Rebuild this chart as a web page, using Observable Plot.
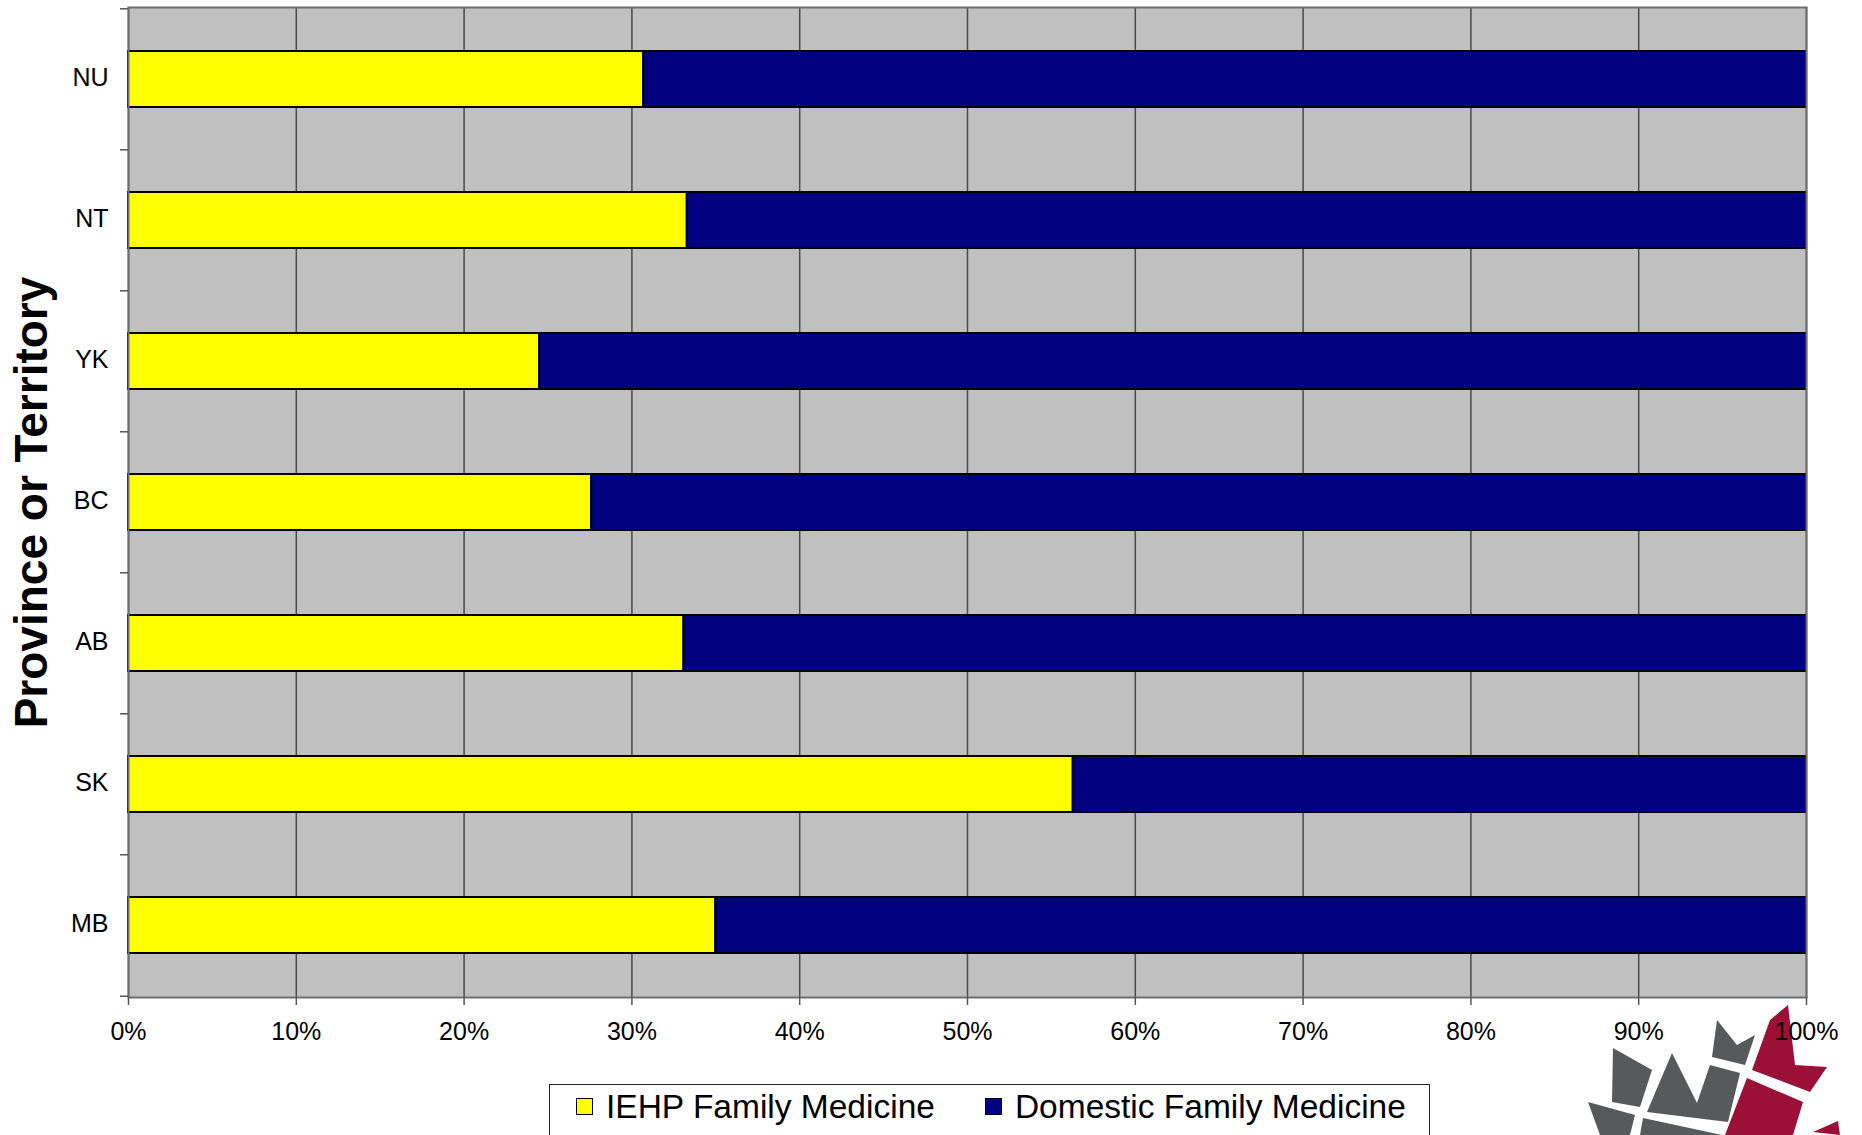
<!DOCTYPE html>
<html>
<head>
<meta charset="utf-8">
<script src="https://cdn.jsdelivr.net/npm/d3@7"></script>
<script src="https://cdn.jsdelivr.net/npm/@observablehq/plot@0.6"></script>
<style>
  html, body { margin: 0; padding: 0; background: #fff; width: 1862px; height: 1135px; overflow: hidden; }
  #page { position: relative; width: 1862px; height: 1135px; }
  #logo { position: absolute; left: 0; top: 0; z-index: 0; }
  #chart { position: relative; z-index: 1; }
  #chart svg { display: block; }
  .legend {
    position: relative; z-index: 2;
    margin: 9px 0 0 549px; width: 881px; height: 80px;
    box-sizing: border-box; border: 1.5px solid #222; background: #fff;
    font-family: "Liberation Sans", Arial, sans-serif; font-size: 33.5px; color: #000;
    padding: 2px 0 0 26px; line-height: 34px; white-space: nowrap;
  }
  .legend .item { display: inline-flex; align-items: center; }
  .legend .item + .item { margin-left: 50px; }
  .legend .swatch { width: 17px; height: 17px; box-sizing: border-box; border: 1.5px solid #000; margin-right: 13px; }
</style>
</head>
<body>
<div id="page">
  <svg id="logo" width="1862" height="1135" viewBox="0 0 1862 1135">
    <!-- maple leaf emblem -->
    <g fill="#58595b">
      <polygon points="1717,1020 1737,1045 1755,1035 1745,1065 1712,1057"/>
      <polygon points="1672,1053 1697,1103 1710,1065 1740,1073 1728,1122 1647,1112"/>
      <polygon points="1613,1048 1652,1070 1640,1107 1612,1102"/>
      <polygon points="1588,1102 1635,1115 1630,1135 1600,1135"/>
      <polygon points="1643,1118 1722,1135 1640,1135"/>
    </g>
    <g fill="#9b1036">
      <polygon points="1770,1020 1788,1005 1795,1065 1827,1067 1810,1092 1752,1070"/>
      <polygon points="1747,1078 1803,1102 1793,1135 1725,1135"/>
      <polygon points="1813,1132 1838,1121 1840,1135"/>
    </g>
  </svg>
  <div id="chart"></div>
  <div class="legend" id="legend"></div>
</div>
<script>
// Share of family medicine residents by province or territory (percent)
const provinces = ["NU", "NT", "YK", "BC", "AB", "SK", "MB"];
const iehpShare = [30.7, 33.3, 24.5, 27.6, 33.1, 56.3, 35.0];
const domesticShare = [69.3, 66.7, 75.5, 72.4, 66.9, 43.7, 65.0];
const seriesNames = ["IEHP Family Medicine", "Domestic Family Medicine"];
const seriesColors = ["#ffff00", "#000080"];
const xTicks = [0, 10, 20, 30, 40, 50, 60, 70, 80, 90, 100];
const yTitle = "Province or Territory";

const rows = provinces.flatMap((p, i) => [
  {province: p, series: seriesNames[0], share: iehpShare[i]},
  {province: p, series: seriesNames[1], share: domesticShare[i]}
]);

const width = 1862, height = 1075;
const marginLeft = 128, marginRight = 56, marginTop = 7, marginBottom = 78;
// distance between category boundaries on the band scale
const step = (height - marginTop - marginBottom) / provinces.length;
const font = '"Liberation Sans", Arial, sans-serif';

const chart = Plot.plot({
  width, height, marginLeft, marginRight, marginTop, marginBottom,
  style: {fontFamily: font, fontSize: "25px", color: "#000", background: "transparent", overflow: "visible"},
  x: {domain: [0, 100]},
  y: {domain: provinces, paddingInner: 0.6, paddingOuter: 0.3},
  color: {domain: seriesNames, range: seriesColors},
  marks: [
    Plot.frame({fill: "#c0c0c0", stroke: null}),
    Plot.gridX(xTicks, {stroke: "#4a4a4a", strokeOpacity: 1, strokeWidth: 1.5}),
    Plot.barX(rows, Plot.stackX({
      x: "share", y: "province", fill: "series", order: seriesNames,
      stroke: "#000", strokeWidth: 2
    })),
    Plot.frame({stroke: "#6e6e6e", strokeWidth: 2, fill: "none"}),
    Plot.axisX(xTicks, {
      tickSize: 8, tickPadding: 17, tickFormat: d => d + "%",
      stroke: "#555", strokeWidth: 1.5, fontSize: 25, label: null
    }),
    Plot.axisY({tickSize: 0, tickPadding: 20, dy: -2, fontSize: 25, label: null}),
    Plot.axisY({tickSize: 8, dy: -step / 2, tickFormat: () => "", stroke: "#555", strokeWidth: 1.5, label: null}),
    Plot.axisY(provinces.slice(-1), {tickSize: 8, dy: step / 2, tickFormat: () => "", stroke: "#555", strokeWidth: 1.5, label: null}),
    Plot.text([yTitle], {
      text: d => d, frameAnchor: "left", dx: -96, rotate: -90,
      fontSize: 46, fontWeight: "bold", textAnchor: "middle", lineAnchor: "middle", fill: "#000"
    })
  ]
});
document.getElementById("chart").appendChild(chart);

// legend below the chart
const legend = d3.select("#legend");
seriesNames.forEach((name, i) => {
  const item = legend.append("span").attr("class", "item");
  item.append("span").attr("class", "swatch").style("background", seriesColors[i]);
  item.append("span").text(name);
});
</script>
</body>
</html>
